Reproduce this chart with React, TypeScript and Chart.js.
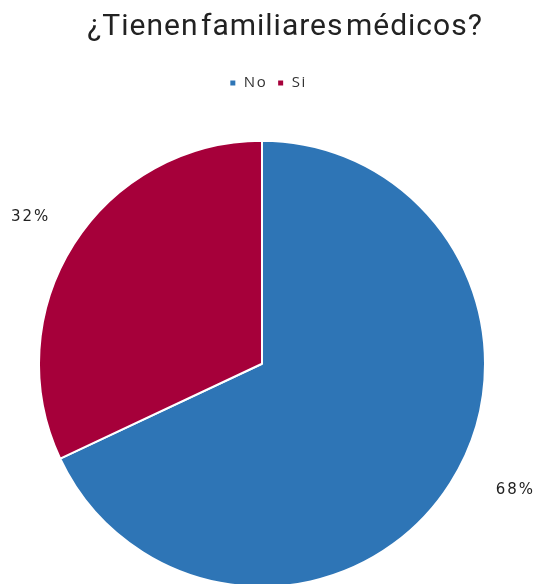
import React, { useEffect, useRef } from "react";
import { Chart, registerables } from "chart.js";

Chart.register(...registerables);

const titleText = "¿Tienen familiares médicos?";
const categories = ["No", "Si"];
const values = [68, 32];
const colors = ["#2E75B6", "#A6003A"];

const spacedText = {
  id: "spacedText",
  afterInit(chart: any) {
    const tb = chart.titleBlock;
    if (tb && !tb.__wrapped) {
      const orig = tb.draw.bind(tb);
      tb.draw = function (...args: any[]) {
        const ctx = chart.ctx;
        ctx.save();
        ctx.translate(23, 0);
        (ctx as any).letterSpacing = "1px";
        (ctx as any).wordSpacing = "-6px";
        orig(...args);
        ctx.restore();
      };
      tb.__wrapped = true;
    }
    const lg = chart.legend;
    if (lg && !lg.__wrapped) {
      const origFit = lg.fit.bind(lg);
      lg.fit = function (...args: any[]) {
        const ctx = chart.ctx;
        ctx.save();
        (ctx as any).letterSpacing = "1.5px";
        origFit(...args);
        ctx.restore();
      };
      const origDraw = lg.draw.bind(lg);
      lg.draw = function (...args: any[]) {
        const ctx = chart.ctx;
        ctx.save();
        ctx.translate(6, 0);
        (ctx as any).letterSpacing = "1.5px";
        origDraw(...args);
        ctx.restore();
      };
      lg.__wrapped = true;
    }
  },
};

const pctLabels = {
  id: "pctLabels",
  afterDatasetsDraw(chart: any) {
    const ctx = chart.ctx;
    const meta = chart.getDatasetMeta(0);
    const total = values.reduce((a, b) => a + b, 0);
    const nudges = [
      [22, -20],
      [0, 0],
    ];
    ctx.save();
    ctx.font = "15px 'DejaVu Sans', sans-serif";
    (ctx as any).letterSpacing = "2px";
    ctx.fillStyle = "#222";
    ctx.textAlign = "center";
    ctx.textBaseline = "middle";
    meta.data.forEach((arc: any, i: number) => {
      const mid = (arc.startAngle + arc.endAngle) / 2;
      const r = arc.outerRadius + 51;
      const x = arc.x + Math.cos(mid) * r + nudges[i][0];
      const y = arc.y + Math.sin(mid) * r + nudges[i][1];
      ctx.fillText(Math.round((values[i] / total) * 100) + "%", x, y);
    });
    ctx.restore();
  },
};

export default function App() {
  const ref = useRef<HTMLCanvasElement>(null);
  useEffect(() => {
    const chart = new Chart(ref.current!, {
      type: "pie",
      data: {
        labels: categories,
        datasets: [
          {
            data: values,
            backgroundColor: colors,
            borderColor: "#ffffff",
            borderWidth: 2,
          },
        ],
      },
      options: {
        animation: false,
        responsive: false,
        maintainAspectRatio: false,
        layout: { padding: { left: 38, right: 53, top: 0, bottom: 0 } },
        plugins: {
          title: {
            display: true,
            text: titleText,
            color: "#222",
            font: { family: "Roboto, sans-serif", size: 30, weight: "normal" },
            padding: { top: 9, bottom: 20.5 },
          },
          legend: {
            display: true,
            position: "top",
            labels: {
              boxWidth: 7,
              boxHeight: 7,
              color: "#333",
              font: { family: "'Open Sans', sans-serif", size: 15 },
              padding: 10,
            },
          },
          tooltip: { enabled: false },
        },
      },
      plugins: [spacedText, pctLabels],
    });
    return () => chart.destroy();
  }, []);
  return (
    <div style={{ position: "fixed", left: 0, top: 0, width: 539, height: 584, overflow: "hidden", background: "#fff" }}>
      <canvas ref={ref} width={539} height={627} style={{ width: 539, height: 627, display: "block" }} />
    </div>
  );
}
